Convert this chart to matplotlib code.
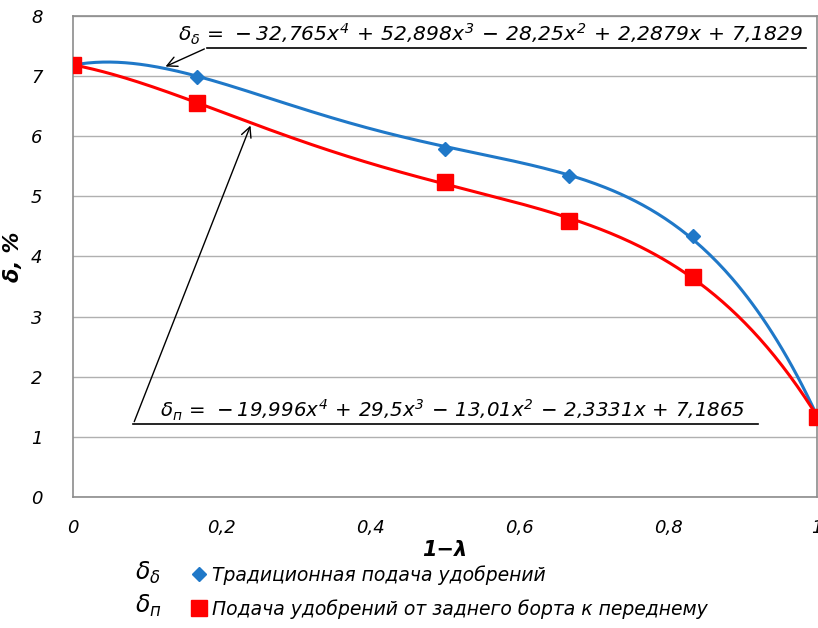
import numpy as np
import matplotlib.pyplot as plt
from matplotlib.lines import Line2D

plt.rcParams['font.family'] = 'DejaVu Sans'
plt.rcParams['font.style'] = 'italic'
plt.rcParams['mathtext.fontset'] = 'dejavusans'
plt.rcParams['mathtext.default'] = 'it'

# измерения
x_pts = [0, 1 / 6, 1 / 2, 2 / 3, 5 / 6, 1]
y_trad = [7.18, 6.98, 5.79, 5.34, 4.34, 1.35]
y_back = [7.19, 6.56, 5.24, 4.59, 3.66, 1.33]

# коэффициенты линий тренда (x^4 ... x^0)
coef_trad = [-32.765, 52.898, -28.25, 2.2879, 7.1829]
coef_back = [-19.996, 29.5, -13.01, -2.3331, 7.1865]

xticks = [0, 0.2, 0.4, 0.6, 0.8, 1]
xtick_labels = ['0', '0,2', '0,4', '0,6', '0,8', '1']
yticks = [0, 1, 2, 3, 4, 5, 6, 7, 8]

lbl_trad = 'Традиционная подача удобрений'
lbl_back = 'Подача удобрений от заднего борта к переднему'

c_blue = '#1f78c8'
c_red = '#ff0000'

fig = plt.figure(figsize=(8.18, 6.28), dpi=100)
ax = fig.add_axes([0.0892, 0.2086, 0.9095, 0.766])

xs = np.linspace(0, 1, 300)
ax.plot(xs, np.polyval(coef_trad, xs), color=c_blue, lw=2.2, zorder=3)
ax.plot(xs, np.polyval(coef_back, xs), color=c_red, lw=2.2, zorder=3)
ax.plot(x_pts, y_trad, ls='none', marker='D', ms=7.5, color=c_blue, zorder=4)
ax.plot(x_pts, y_back, ls='none', marker='s', ms=11, color=c_red, zorder=5)

ax.set_xlim(0, 1)
ax.set_ylim(0, 8)
ax.set_xticks(xticks)
ax.set_xticklabels(xtick_labels)
ax.set_yticks(yticks)
ax.tick_params(length=0, labelsize=13, pad=16)
ax.tick_params(axis='y', pad=22)
ax.grid(axis='y', color='#b0b0b0', lw=1)
ax.set_axisbelow(True)
for s in ax.spines.values():
    s.set_color('#8c8c8c')
    s.set_linewidth(1.2)

ax.set_xlabel('1−λ', fontsize=15, fontweight='bold', labelpad=2)
ax.set_ylabel('δ, %', fontsize=15, fontweight='bold', labelpad=6)

# уравнения трендов со сносками
eq_trad = (r'$\delta_{\delta}\,=\,-32{,}765x^4\,+\,52{,}898x^3\,-\,'
           r'28{,}25x^2\,+\,2{,}2879x\,+\,7{,}1829$')
eq_back = (r'$\delta_{п}\,=\,-19{,}996x^4\,+\,29{,}5x^3\,-\,'
           r'13{,}01x^2\,-\,2{,}3331x\,+\,7{,}1865$')

ax.text(0.141, 7.57, eq_trad, fontsize=14.6, va='baseline', ha='left', zorder=6)
ax.plot([0.18, 0.985], [7.47, 7.47], color='black', lw=1.2, zorder=6)
ax.annotate('', xy=(0.121, 7.14), xytext=(0.18, 7.47),
            arrowprops=dict(arrowstyle='->', color='black', lw=1, mutation_scale=18))

ax.text(0.117, 1.33, eq_back, fontsize=14.2, va='baseline', ha='left', zorder=6)
ax.plot([0.081, 0.921], [1.21, 1.21], color='black', lw=1.2, zorder=6)
ax.annotate('', xy=(0.24, 6.22), xytext=(0.081, 1.21),
            arrowprops=dict(arrowstyle='->', color='black', lw=1, mutation_scale=18))

# легенда
handles = [Line2D([], [], ls='none', marker='D', ms=7.5, color=c_blue),
           Line2D([], [], ls='none', marker='s', ms=11, color=c_red)]
fig.legend(handles, [lbl_trad, lbl_back], loc='upper left',
           bbox_to_anchor=(0.236, 0.1), frameon=False, fontsize=13.5,
           handlelength=0.6, handletextpad=0.4, labelspacing=0.75,
           borderpad=0, borderaxespad=0)
fig.text(0.165, 0.077, r'$\delta_{\delta}$', fontsize=17, va='baseline')
fig.text(0.165, 0.024, r'$\delta_{п}$', fontsize=17, va='baseline')

fig.savefig('out.png', dpi=100)
